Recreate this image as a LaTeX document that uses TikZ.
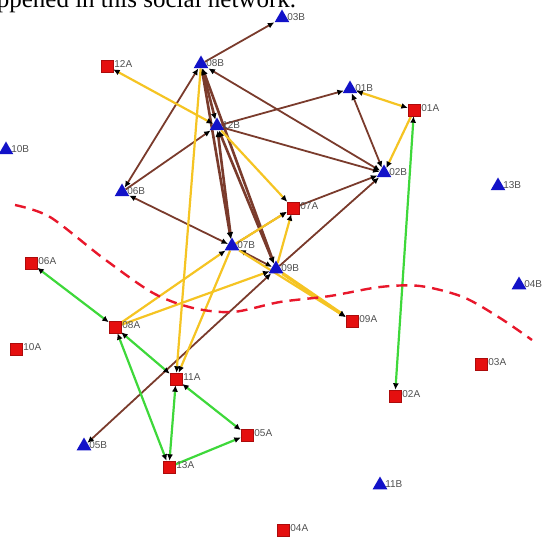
\documentclass[tikz,border=0pt]{standalone}
\usepackage{fontspec}
\setmainfont{Liberation Serif}
\newfontfamily\netfont{Liberation Sans}
\usetikzlibrary{shapes.geometric, arrows.meta, backgrounds}

\definecolor{tiebrown}{HTML}{7A3B2C}
\definecolor{infoyellow}{HTML}{F5C423}
\definecolor{linkgreen}{HTML}{3ED83A}
\definecolor{boxred}{HTML}{E50F0F}
\definecolor{triblue}{HTML}{1212C8}
\definecolor{labelgray}{HTML}{505050}
\definecolor{cutred}{HTML}{E8172B}

\tikzset{
    netlabel/.style={font=\netfont\fontsize{10}{10}\selectfont, text=labelgray, inner sep=1pt},
    typeA/.style={rectangle, fill=boxred, draw=boxred!75!black, minimum size=12pt, inner sep=0pt, label={[netlabel, label distance=0pt, yshift=2pt]right:#1}},
    typeB/.style={regular polygon, regular polygon sides=3, fill=triblue, minimum size=17pt, inner sep=0pt, label={[netlabel, label distance=-1pt, yshift=1pt]right:#1}},
    tie/.style={draw=tiebrown, line width=1.8pt},
    info/.style={draw=infoyellow, line width=2.2pt},
    link/.style={draw=linkgreen, line width=2.2pt},
    cut/.style={draw=cutred, line width=2.4pt, dash pattern=on 11pt off 7pt}
}

\begin{document}
\begin{tikzpicture}[x=1pt, y=-1pt, >={Latex[length=6.5pt, width=6pt, color=black]}]
        \useasboundingbox (0,0) rectangle (545,537);

        % Caption line left over from the page
        \node[anchor=base west, inner sep=0pt, font=\fontsize{25}{25}\selectfont] (caption) at (-27,8) {happened in this social network.};

        %-----Type A actors-----
        \node[typeA=12A] (a12) at (107,66) {};
        \node[typeA=01A] (a01) at (414,110) {};
        \node[typeA=07A] (a07) at (293,208) {};
        \node[typeA=06A] (a06) at (31,263) {};
        \node[typeA=09A] (a09) at (352,321) {};
        \node[typeA=08A] (a08) at (115,327) {};
        \node[typeA=10A] (a10) at (16,349) {};
        \node[typeA=03A] (a03) at (481,364) {};
        \node[typeA=11A] (a11) at (176,379) {};
        \node[typeA=02A] (a02) at (395,396) {};
        \node[typeA=05A] (a05) at (247,435) {};
        \node[typeA=13A] (a13) at (169,467) {};
        \node[typeA=04A] (a04) at (283,530) {};

        %-----Type B actors-----
        \node[typeB=03B] (b03) at (282,18) {};
        \node[typeB=08B] (b08) at (201,64) {};
        \node[typeB=01B] (b01) at (350,89) {};
        \node[typeB=12B] (b12) at (217,126) {};
        \node[typeB=10B] (b10) at (6,150) {};
        \node[typeB=02B] (b02) at (384,173) {};
        \node[typeB=13B] (b13) at (498,186) {};
        \node[typeB=06B] (b06) at (122,192) {};
        \node[typeB=07B] (b07) at (232,246) {};
        \node[typeB=09B] (b09) at (276,269) {};
        \node[typeB=04B] (b04) at (519,285) {};
        \node[typeB=05B] (b05) at (84,446) {};
        \node[typeB=11B] (b11) at (380,485) {};

        \begin{pgfonlayer}{background}
        %-----Brown ties-----
        \draw[tie, ->] (b08) -- (b03);
        \draw[tie, <->, line width=2.6pt] (b08) -- (b12);
        \draw[tie, <->] (b08) -- (b06);
        \draw[tie, ->] (b06) -- (b12);
        \draw[tie, <->] (b06) -- (b07);
        \draw[tie, <->, line width=2.6pt] (b08) -- (b07);
        \draw[tie, <->, line width=2.6pt] (b12) -- (b07);
        \draw[tie, <->, line width=2.6pt] (b08) -- (b09);
        \draw[tie, <->, line width=2.6pt] (b12) -- (b09);
        \draw[tie, <->] (b08) -- (b02);
        \draw[tie, ->] (b12) -- (b01);
        \draw[tie, ->] (b12) -- (b02);
        \draw[tie, <->] (b01) -- (b02);
        \draw[tie, ->] (a07) -- (b02);
        \draw[tie, ->] (b09) -- (b02);
        \draw[tie, ->] (b07) -- (a07);
        \draw[tie, <->] (b05) -- (b09);
        \draw[tie, <->] (b07) -- (b09);

        %-----Yellow ties-----
        \draw[info, <->] (a12) -- (b12);
        \draw[info, ->] (b08) -- (a11);
        \draw[info, ->] (b12) -- (a07);
        \draw[info, <->] (b01) -- (a01);
        \draw[info, ->] (a01) -- (b02);
        \draw[info, ->] (a08) -- (b07);
        \draw[info, ->] (a08) -- (b09);
        \draw[info, ->] (b07) -- (a11);
        \draw[info, ->] (b07) -- (a07);
        \draw[info, ->] (b09) -- (a07);
        \draw[info, ->] (b07) -- (a09);
        \draw[info, ->, line width=3.4pt] (b09) -- (a09);

        %-----Green ties-----
        \draw[link, <->] (a06) -- (a08);
        \draw[link, <->] (a08) -- (a11);
        \draw[link, <->] (a08) -- (a13);
        \draw[link, <->] (a11) -- (a13);
        \draw[link, <->] (a11) -- (a05);
        \draw[link, ->] (a13) -- (a05);
        \draw[link, <->] (a01) -- (a02);

        %-----Dividing line-----
        \draw[cut] plot[smooth] coordinates {(15,205) (50,217) (103,258) (153,293) (193,308) (233,312) (280,302) (330,296) (380,287) (420,286) (463,297) (500,318) (532,340)};
        \end{pgfonlayer}

    \end{tikzpicture}
\end{document}
